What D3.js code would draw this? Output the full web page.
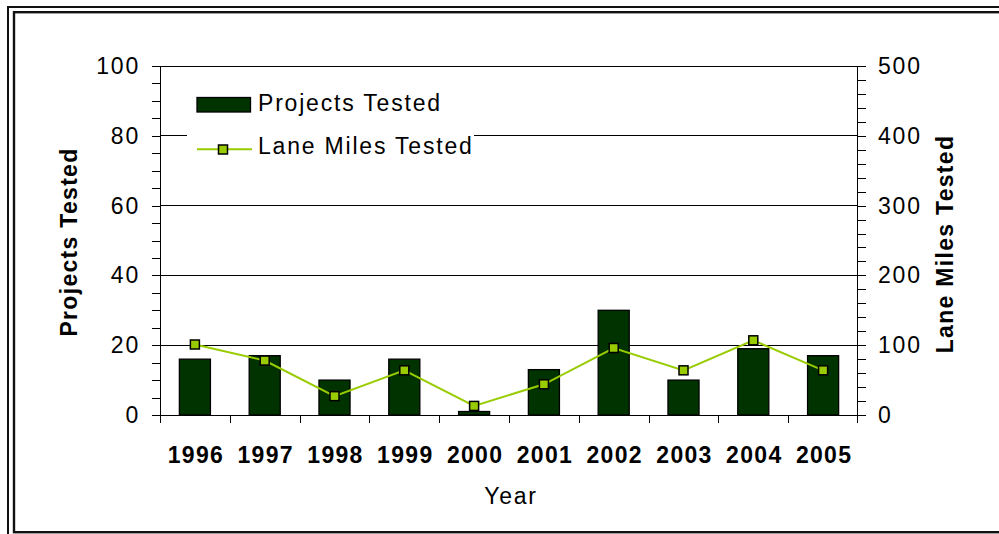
<!DOCTYPE html>
<html><head><meta charset="utf-8">
<script src="https://cdn.jsdelivr.net/npm/d3@7"></script>
<style>
html,body{margin:0;padding:0;background:#fff;}
svg text{font-family:"Liberation Sans",Arial,sans-serif;}
</style></head>
<body>
<svg id="chart" width="999" height="534"></svg>
<script>
const years = ["1996","1997","1998","1999","2000","2001","2002","2003","2004","2005"];
const projectsTested = [16, 17, 10, 16, 1, 13, 30, 10, 19, 17];
const laneMilesTested = [101, 78, 27, 64, 13, 44, 96, 64, 107, 64];
const leftTicks = [0, 20, 40, 60, 80, 100];
const rightTicks = [0, 100, 200, 300, 400, 500];

const svg = d3.select("#chart");
const L = 160, R = 858, T = 66, B = 415;
const barColor = "#003300", lineColor = "#99cc00";

// border
svg.append("rect").attr("x", 8).attr("y", 7).attr("width", 1000).attr("height", 540)
  .attr("fill", "none").attr("stroke", "#111").attr("stroke-width", 2);
svg.append("rect").attr("x", 14).attr("y", 12.2).attr("width", 1000).attr("height", 520)
  .attr("fill", "none").attr("stroke", "#111").attr("stroke-width", 2.4);

const x = d3.scaleBand().domain(years).range([L, R]).paddingInner(0.555).paddingOuter(0.2775);
const xb = d3.scaleBand().domain(years).range([L, R]);
const yL = d3.scaleLinear().domain([0, 100]).range([B, T]);
const yR = d3.scaleLinear().domain([0, 500]).range([B, T]);

// gridlines
svg.append("g").selectAll("line").data(leftTicks.filter(d => d > 0)).join("line")
  .attr("x1", L).attr("x2", R).attr("y1", d => yL(d)).attr("y2", d => yL(d))
  .attr("stroke", "#000").attr("stroke-width", 1).attr("shape-rendering", "crispEdges");

// minor/major ticks
const leftMinor = d3.range(0, 101, 5);
svg.append("g").selectAll("line").data(leftMinor).join("line")
  .attr("x1", L - 8).attr("x2", L).attr("y1", d => Math.round(yL(d)) + 0.5).attr("y2", d => Math.round(yL(d)) + 0.5)
  .attr("stroke", "#000").attr("stroke-width", 1);
const rightMinor = d3.range(0, 501, 20);
svg.append("g").selectAll("line").data(rightMinor).join("line")
  .attr("x1", R).attr("x2", R + 8).attr("y1", d => Math.round(yR(d)) + 0.5).attr("y2", d => Math.round(yR(d)) + 0.5)
  .attr("stroke", "#000").attr("stroke-width", 1);

// axes lines
svg.append("line").attr("x1", L + 0.5).attr("x2", L + 0.5).attr("y1", T).attr("y2", B + 8).attr("stroke", "#000");
svg.append("line").attr("x1", R - 0.5).attr("x2", R - 0.5).attr("y1", T).attr("y2", B + 8).attr("stroke", "#000");
svg.append("line").attr("x1", L - 8).attr("x2", R + 8).attr("y1", B + 0.5).attr("y2", B + 0.5).attr("stroke", "#000");

// x ticks at category boundaries
svg.append("g").selectAll("line").data(years.slice(1)).join("line")
  .attr("x1", d => Math.round(xb(d)) + 0.5).attr("x2", d => Math.round(xb(d)) + 0.5)
  .attr("y1", B).attr("y2", B + 8).attr("stroke", "#000");

// tick labels
const tickFont = 23, ls = 1.3, lsReg = 1.8;
svg.append("g").selectAll("text").data(leftTicks).join("text")
  .attr("x", 140).attr("y", d => yL(d) + 8)
  .attr("text-anchor", "end").attr("font-size", tickFont).attr("letter-spacing", lsReg)
  .text(d => d);
svg.append("g").selectAll("text").data(rightTicks).join("text")
  .attr("x", 878).attr("y", d => yR(d) + 8)
  .attr("text-anchor", "start").attr("font-size", tickFont).attr("letter-spacing", lsReg)
  .text(d => d);
svg.append("g").selectAll("text").data(years).join("text")
  .attr("x", d => xb(d) + xb.bandwidth() / 2 + 1).attr("y", 462.5)
  .attr("text-anchor", "middle").attr("font-size", tickFont).attr("font-weight", "bold").attr("letter-spacing", ls)
  .text(d => d);

// axis titles
svg.append("text").attr("transform", "translate(77,242) rotate(-90)")
  .attr("text-anchor", "middle").attr("font-size", tickFont).attr("font-weight", "bold").attr("letter-spacing", ls)
  .text("Projects Tested");
svg.append("text").attr("transform", "translate(953,244) rotate(-90)")
  .attr("text-anchor", "middle").attr("font-size", tickFont).attr("font-weight", "bold").attr("letter-spacing", ls)
  .text("Lane Miles Tested");
svg.append("text").attr("x", 511).attr("y", 504)
  .attr("text-anchor", "middle").attr("font-size", tickFont).attr("letter-spacing", lsReg)
  .text("Year");

// legend background
svg.append("rect").attr("x", 187).attr("y", 80).attr("width", 287).attr("height", 84).attr("fill", "#fff");

// bars
svg.append("g").selectAll("rect").data(years).join("rect")
  .attr("x", d => x(d)).attr("width", x.bandwidth())
  .attr("y", (d, i) => yL(projectsTested[i])).attr("height", (d, i) => B - yL(projectsTested[i]))
  .attr("fill", barColor).attr("stroke", "#000").attr("stroke-width", 1.3);

// line
const line = d3.line().x((d, i) => xb(years[i]) + xb.bandwidth() / 2).y(d => yR(d));
svg.append("path").datum(laneMilesTested).attr("d", line)
  .attr("fill", "none").attr("stroke", lineColor).attr("stroke-width", 2);
svg.append("g").selectAll("rect").data(laneMilesTested).join("rect")
  .attr("x", (d, i) => xb(years[i]) + xb.bandwidth() / 2 - 4.5).attr("y", d => yR(d) - 4.5)
  .attr("width", 9).attr("height", 9)
  .attr("fill", lineColor).attr("stroke", "#000").attr("stroke-width", 1.5);

// legend
svg.append("rect").attr("x", 197).attr("y", 97.5).attr("width", 53.5).attr("height", 14.5)
  .attr("fill", barColor).attr("stroke", "#000").attr("stroke-width", 1.3);
svg.append("text").attr("x", 258).attr("y", 110.5).attr("font-size", tickFont).attr("letter-spacing", lsReg)
  .text("Projects Tested");
svg.append("line").attr("x1", 197).attr("x2", 252).attr("y1", 149.3).attr("y2", 149.3)
  .attr("stroke", lineColor).attr("stroke-width", 2);
svg.append("rect").attr("x", 218.5).attr("y", 145).attr("width", 9).attr("height", 9)
  .attr("fill", lineColor).attr("stroke", "#000").attr("stroke-width", 1.5);
svg.append("text").attr("x", 258).attr("y", 154).attr("font-size", tickFont).attr("letter-spacing", lsReg)
  .text("Lane Miles Tested");
</script>
</body></html>
